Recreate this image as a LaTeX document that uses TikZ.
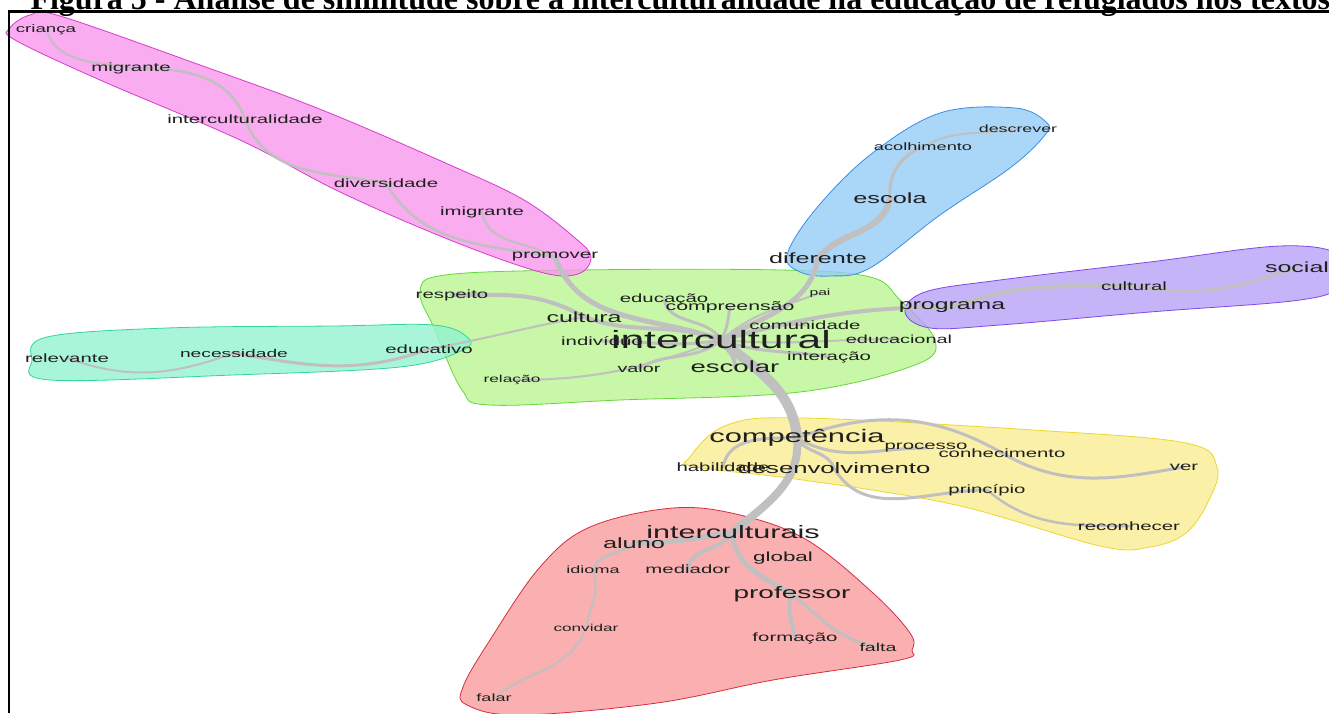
\documentclass[tikz,border=0pt]{standalone}
\usepackage{fontspec}
\setmainfont{Liberation Sans}
\newfontfamily\titlefont{Liberation Serif}

\definecolor{linkgray}{RGB}{192,192,192}
\definecolor{pinkfill}{RGB}{247,151,236}
\definecolor{pinkline}{RGB}{214,60,205}
\definecolor{greenfill}{RGB}{186,245,146}
\definecolor{greenline}{RGB}{100,215,60}
\definecolor{tealfill}{RGB}{146,243,209}
\definecolor{tealline}{RGB}{50,215,150}
\definecolor{bluefill}{RGB}{149,204,246}
\definecolor{blueline}{RGB}{60,140,230}
\definecolor{purplefill}{RGB}{184,161,246}
\definecolor{purpleline}{RGB}{130,70,235}
\definecolor{yellowfill}{RGB}{249,236,146}
\definecolor{yellowline}{RGB}{235,215,50}
\definecolor{redfill}{RGB}{249,156,156}
\definecolor{redline}{RGB}{215,45,65}

\pgfdeclarelayer{halos}
\pgfdeclarelayer{links}
\pgfsetlayers{halos,links,main}

\begin{document}
\begin{tikzpicture}[x=1pt, y=1pt,
	term/.style={font=\fontsize{#1}{#1}\selectfont, text=black!88, inner sep=0pt, xscale=1.7},
	term/.default=12,
	simlink/.style={draw=linkgray, line width=#1pt, line cap=round},
	halo/.style 2 args={fill=#1, draw=#2, fill opacity=0.8, line width=0.8pt}]

	\useasboundingbox (0,0) rectangle (1329,713);

	% title and frame
	\node[anchor=base west, font=\titlefont\bfseries\fontsize{32}{32}\selectfont] (title) at (27,703.5)
		{Figura 5 - Análise de similitude sobre a interculturalidade na educação de refugiados nos textos};
	\draw[line width=2.2pt] (8,701.5) -- (1329,701.5);
	\draw[line width=2.2pt] (9,702.5) -- (9,0);

	% clusters
	\begin{pgfonlayer}{halos}
	\path[halo={greenfill}{greenline}] plot[smooth cycle, tension=0.6] coordinates
		{(420,421) (445,438) (580,443) (780,443) (870,436) (900,413) (935,373) (915,348) (800,321) (620,313) (490,308) (462,323) (435,383)};
	\path[halo={pinkfill}{pinkline}] plot[smooth cycle, tension=0.6] coordinates
		{(10,685) (30,698) (60,697) (200,648) (322,603) (450,548) (524,513) (575,475) (591,456) (578,439) (540,441) (450,473) (340,521) (240,573) (100,633) (15,673)};
	\path[halo={tealfill}{tealline}] plot[smooth cycle, tension=0.6] coordinates
		{(32,353) (47,376) (167,385) (333,387) (433,388) (467,376) (463,363) (400,346) (233,338) (50,333)};
	\path[halo={bluefill}{blueline}] plot[smooth cycle, tension=0.6] coordinates
		{(1046,591) (1015,605) (940,600) (870,558) (815,503) (787,458) (800,441) (830,437) (870,445) (940,498) (1010,545) (1045,578)};
	\path[halo={purplefill}{purpleline}] plot[smooth cycle, tension=0.6] coordinates
		{(905,401) (925,421) (1000,433) (1150,451) (1280,467) (1340,458) (1340,428) (1300,413) (1150,401) (1000,388) (930,385)};
	\path[halo={yellowfill}{yellowline}] plot[smooth cycle, tension=0.6] coordinates
		{(690,256) (727,288) (803,295) (1033,283) (1186,270) (1217,246) (1209,213) (1186,180) (1150,166) (1100,167) (956,208) (803,233) (696,246)};
	\path[halo={redfill}{redline}] plot[smooth cycle, tension=0.6] coordinates
		{(590,186) (673,205) (740,198) (807,173) (873,120) (910,80) (912,63) (900,53) (773,33) (657,10) (520,-2) (467,8) (463,26) (490,73) (540,146)};
	\end{pgfonlayer}

	% words
	\node[term=11] (crianca) at (46,683) {criança};
	\node[term] (migrante) at (131,645) {migrante};
	\node[term] (interculturalidade) at (245,594) {interculturalidade};
	\node[term] (diversidade) at (386,530) {diversidade};
	\node[term] (imigrante) at (482,501) {imigrante};
	\node[term] (promover) at (555,456) {promover};

	\node[term] (respeito) at (452,418) {respeito};
	\node[term] (educacao) at (664,414) {educação};
	\node[term=12.5] (compreensao) at (730,406) {compreensão};
	\node[term=9.2] (pai) at (820,420) {pai};
	\node[term=14.7] (cultura) at (584,396) {cultura};
	\node[term] (comunidade) at (805,388) {comunidade};
	\node[term] (individuo) at (602,372) {indivíduo};
	\node[term=25] (intercultural) at (721,373) {intercultural};
	\node[term=11.7] (educacional) at (899,374) {educacional};
	\node[term] (interacao) at (829,356) {interação};
	\node[term=11.6] (valor) at (639,345) {valor};
	\node[term=16.2] (escolar) at (735,346) {escolar};
	\node[term=10.2] (relacao) at (512,333) {relação};

	\node[term] (relevante) at (67,355) {relevante};
	\node[term=11.3] (necessidade) at (234,360) {necessidade};
	\node[term] (educativo) at (429,364) {educativo};

	\node[term=10.5] (descrever) at (1018,584) {descrever};
	\node[term=10.7] (acolhimento) at (923,566) {acolhimento};
	\node[term=14.9] (escola) at (890,515) {escola};
	\node[term=14.8] (diferente) at (818,455) {diferente};

	\node[term=14.6] (programa) at (952,406) {programa};
	\node[term] (cultural) at (1134,427) {cultural};
	\node[term=14.7] (social) at (1297,446) {social};

	\node[term=18.2] (competencia) at (797,275) {competência};
	\node[term] (processo) at (926,265) {processo};
	\node[term] (conhecimento) at (1002,260) {conhecimento};
	\node[term] (habilidade) at (723,246) {habilidade};
	\node[term=15.1] (desenvolvimento) at (834,245) {desenvolvimento};
	\node[term] (ver) at (1184,246) {ver};
	\node[term] (principio) at (987,223) {princípio};
	\node[term] (reconhecer) at (1129,187) {reconhecer};

	\node[term=18] (interculturais) at (733,181) {interculturais};
	\node[term=14.9] (aluno) at (634,170) {aluno};
	\node[term=13.2] (global) at (783,155) {global};
	\node[term=10.6] (idioma) at (593,143) {idioma};
	\node[term] (mediador) at (688,144) {mediador};
	\node[term=16.5] (professor) at (792,119) {professor};
	\node[term=10.1] (convidar) at (586,85) {convidar};
	\node[term] (formacao) at (795,75) {formação};
	\node[term=11.5] (falta) at (878,66) {falta};
	\node[term=10.6] (falar) at (494,15) {falar};

	% similarity links
	\begin{pgfonlayer}{links}
	\path[simlink=10] (intercultural.center) edge[out=-40, in=95] (competencia.center);
	\path[simlink=8] (competencia.center) edge[out=-85, in=40] (interculturais.center);
	\path[simlink=5] (intercultural.center) edge[out=30, in=-100] (diferente.center);
	\path[simlink=6] (diferente.center) edge[out=50, in=-100] (escola.center);
	\path[simlink=3] (escola.center) edge[out=95, in=-160] (acolhimento.center);
	\path[simlink=2] (acolhimento.center) edge[out=30, in=190] (descrever.center);
	\path[simlink=4] (intercultural.center) edge[out=15, in=180] (programa.center);
	\path[simlink=4] (programa.center) edge[out=20, in=180] (cultural.center);
	\path[simlink=3] (cultural.center) edge[out=-10, in=200] (social.center);
	\path[simlink=2] (intercultural.center) edge[out=40, in=200] (pai.center);
	\path[simlink=2] (intercultural.center) edge[out=20, in=180] (comunidade.center);
	\path[simlink=2] (intercultural.center) edge[out=-5, in=180] (educacional.center);
	\path[simlink=3] (intercultural.center) edge[out=-20, in=170] (interacao.center);
	\path[simlink=3] (intercultural.center) edge[out=60, in=-100] (compreensao.center);
	\path[simlink=3] (intercultural.center) edge[out=120, in=-80] (educacao.center);
	\path[simlink=4] (intercultural.center) edge[out=160, in=-20] (cultura.center);
	\path[simlink=4] (cultura.center) edge[out=150, in=0] (respeito.center);
	\path[simlink=5] (promover.center) edge[out=-70, in=160] (intercultural.center);
	\path[simlink=2] (cultura.center) edge[out=190, in=10] (educativo.center);
	\path[simlink=3] (educativo.center) edge[out=200, in=-10] (necessidade.center);
	\path[simlink=2] (necessidade.center) edge[out=200, in=-20] (relevante.center);
	\path[simlink=2] (intercultural.center) edge[out=200, in=0] (relacao.center);
	\path[simlink=3] (intercultural.center) edge[out=220, in=30] (valor.center);
	\path[simlink=4] (intercultural.center) edge[out=-60, in=90] (escolar.center);
	\path[simlink=3] (intercultural.center) edge[out=190, in=0] (individuo.center);

	\path[simlink=2] (promover.center) edge[out=150, in=-80] (imigrante.center);
	\path[simlink=2.5] (promover.center) edge[out=170, in=-60] (diversidade.center);
	\path[simlink=2.5] (diversidade.center) edge[out=170, in=-70] (interculturalidade.center);
	\path[simlink=2.5] (interculturalidade.center) edge[out=110, in=0] (migrante.center);
	\path[simlink=2] (migrante.center) edge[out=170, in=-70] (crianca.center);

	\path[simlink=3] (competencia.center) edge[out=180, in=80] (habilidade.center);
	\path[simlink=3] (competencia.center) edge[out=-60, in=110] (desenvolvimento.center);
	\path[simlink=3] (competencia.center) edge[out=-30, in=180] (processo.center);
	\path[simlink=3] (competencia.center) edge[out=20, in=150] (conhecimento.center);
	\path[simlink=3] (conhecimento.center) edge[out=-30, in=190] (ver.center);
	\path[simlink=3] (desenvolvimento.center) edge[out=-60, in=180] (principio.center);
	\path[simlink=2.5] (principio.center) edge[out=-40, in=180] (reconhecer.center);

	\path[simlink=5] (interculturais.center) edge[out=190, in=0] (aluno.center);
	\path[simlink=3] (aluno.center) edge[out=220, in=70] (idioma.center);
	\path[simlink=2] (idioma.center) edge[out=-70, in=80] (convidar.center);
	\path[simlink=2] (convidar.center) edge[out=-110, in=40] (falar.center);
	\path[simlink=4] (interculturais.center) edge[out=-120, in=80] (mediador.center);
	\path[simlink=5] (interculturais.center) edge[out=-90, in=150] (professor.center);
	\path[simlink=4] (professor.center) edge[out=-110, in=100] (formacao.center);
	\path[simlink=3] (professor.center) edge[out=-40, in=170] (falta.center);
	\end{pgfonlayer}

\end{tikzpicture}
\end{document}
